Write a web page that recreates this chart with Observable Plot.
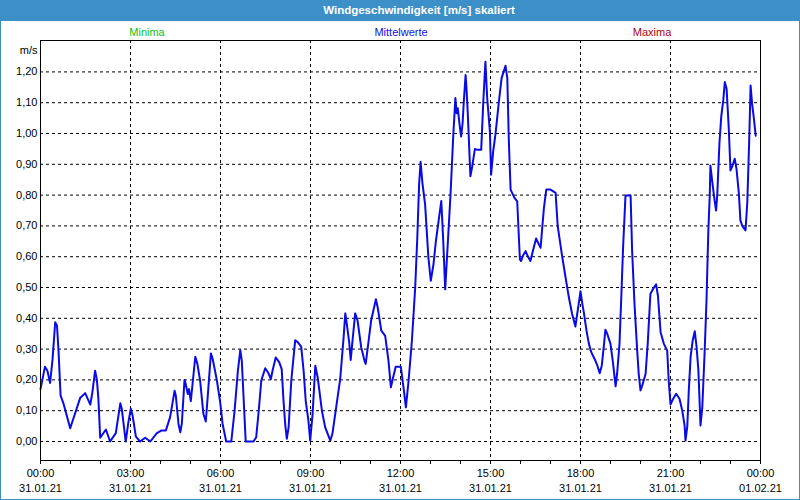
<!DOCTYPE html>
<html>
<head>
<meta charset="utf-8">
<script src="https://cdn.jsdelivr.net/npm/d3@7"></script>
<script src="https://cdn.jsdelivr.net/npm/@observablehq/plot@0.6"></script>
<style>
  html, body { margin: 0; padding: 0; background: #fff; }
  #wrap { position: relative; width: 800px; height: 500px; overflow: hidden; font-family: "Liberation Sans", Arial, sans-serif; background: #fff; }
  #titlebar { position: absolute; left: 0; top: 0; width: 800px; height: 21px; background: #3c8fc7; z-index: 2; }
  #title { position: absolute; left: 419px; top: 10px; transform: translate(-50%, -50%); color: #fff; font-weight: bold; font-size: 11.5px; white-space: nowrap; }
  .leg { position: absolute; top: 32px; transform: translate(-50%, -50%); font-size: 11px; white-space: nowrap; z-index: 3; }
  #chart { position: absolute; left: 0; top: 21px; z-index: 1; }
  #border { position: absolute; left: 0; top: 0; width: 800px; height: 500px; box-sizing: border-box; border: 1px solid #3c8fc7; pointer-events: none; z-index: 4; }
</style>
</head>
<body>
<div id="wrap">
  <div id="titlebar"><span id="title">Windgeschwindigkeit [m/s] skaliert</span></div>
  <div id="chart"></div>
  <span class="leg" style="left:147px;color:#10c010">Minima</span>
  <span class="leg" style="left:401px;color:#1010e8">Mittelwerte</span>
  <span class="leg" style="left:652px;color:#b00010">Maxima</span>
  <div id="border"></div>
</div>
<script>
// time in hours since 31.01.21 00:00
const hours = [
  0.00,0.15,0.23,0.32,0.40,0.49,0.55,0.60,0.67,0.77,0.99,1.32,1.49,1.66,1.73,1.82,1.88,1.93,1.99,2.18,
  2.32,2.51,2.66,2.71,2.84,2.93,3.01,3.07,3.18,3.32,3.49,3.66,3.88,4.04,4.18,4.32,4.47,4.51,4.60,4.66,
  4.71,4.80,4.84,4.91,4.95,5.01,5.08,5.16,5.23,5.32,5.43,5.51,5.58,5.68,5.74,5.88,5.99,6.07,6.19,6.36,
  6.47,6.58,6.66,6.71,6.84,7.10,7.19,7.27,7.36,7.49,7.58,7.68,7.74,7.84,7.96,8.04,8.10,8.16,8.21,8.27,
  8.36,8.49,8.58,8.69,8.77,8.84,8.93,8.99,9.07,9.16,9.24,9.38,9.49,9.66,9.73,9.84,9.99,10.10,10.16,10.21,
  10.29,10.34,10.40,10.49,10.57,10.69,10.80,10.84,10.91,11.02,11.18,11.24,11.36,11.49,11.60,11.68,11.73,11.84,12.01,12.10,
  12.18,12.27,12.38,12.49,12.56,12.62,12.67,12.73,12.82,12.93,13.01,13.10,13.18,13.27,13.36,13.42,13.49,13.58,13.67,13.76,
  13.83,13.87,13.91,13.97,14.02,14.07,14.11,14.17,14.20,14.24,14.33,14.39,14.48,14.56,14.69,14.76,14.83,14.89,14.98,15.02,
  15.09,15.17,15.28,15.37,15.50,15.56,15.61,15.67,15.80,15.89,15.98,16.02,16.09,16.17,16.24,16.33,16.44,16.52,16.61,16.67,
  16.78,16.86,17.00,17.17,17.24,17.39,17.50,17.61,17.72,17.83,17.89,17.94,18.00,18.06,18.11,18.20,18.28,18.36,18.47,18.56,
  18.64,18.71,18.78,18.83,18.89,19.00,19.08,19.17,19.22,19.30,19.36,19.42,19.50,19.67,19.72,19.80,19.89,19.94,20.00,20.06,
  20.17,20.24,20.33,20.44,20.52,20.58,20.67,20.78,20.89,20.94,21.00,21.09,21.19,21.30,21.39,21.47,21.50,21.56,21.61,21.67,
  21.74,21.81,21.87,21.93,22.00,22.06,22.14,22.20,22.26,22.31,22.33,22.40,22.47,22.52,22.56,22.63,22.69,22.76,22.81,22.87,
  22.94,23.00,23.07,23.14,23.20,23.28,23.33,23.39,23.50,23.56,23.62,23.67,23.72,23.78,23.84
];
// Mittelwerte [m/s]
const speeds = [
  0.170,0.243,0.230,0.190,0.265,0.387,0.376,0.295,0.149,0.122,0.043,0.141,0.157,0.120,0.160,0.230,0.200,0.138,0.012,0.039,
  0.000,0.027,0.124,0.106,0.000,0.063,0.106,0.084,0.016,0.000,0.012,0.000,0.027,0.036,0.036,0.079,0.165,0.149,0.057,0.030,
  0.057,0.200,0.187,0.154,0.170,0.131,0.198,0.275,0.252,0.198,0.090,0.065,0.154,0.286,0.268,0.198,0.127,0.057,0.000,0.000,
  0.100,0.230,0.297,0.262,0.000,0.000,0.014,0.095,0.198,0.238,0.225,0.203,0.232,0.273,0.257,0.235,0.133,0.052,0.009,0.046,
  0.198,0.329,0.322,0.308,0.230,0.133,0.068,0.003,0.090,0.246,0.208,0.100,0.046,0.003,0.025,0.100,0.203,0.333,0.416,0.381,
  0.322,0.265,0.327,0.416,0.392,0.306,0.262,0.252,0.306,0.392,0.462,0.435,0.360,0.343,0.262,0.176,0.198,0.243,0.243,0.176,
  0.111,0.198,0.327,0.500,0.662,0.835,0.908,0.840,0.770,0.597,0.522,0.576,0.651,0.716,0.781,0.661,0.494,0.650,0.807,0.996,
  1.115,1.066,1.082,1.028,0.990,1.034,1.104,1.190,1.147,1.071,0.861,0.893,0.950,0.947,0.947,1.104,1.233,1.115,1.007,0.866,
  0.942,1.001,1.104,1.180,1.220,1.180,0.980,0.818,0.791,0.780,0.591,0.586,0.605,0.618,0.602,0.586,0.629,0.659,0.640,0.629,
  0.758,0.818,0.818,0.807,0.699,0.600,0.534,0.469,0.414,0.373,0.414,0.447,0.488,0.447,0.420,0.360,0.317,0.290,0.268,0.247,
  0.222,0.247,0.312,0.363,0.350,0.317,0.258,0.179,0.220,0.317,0.469,0.631,0.799,0.799,0.620,0.447,0.295,0.220,0.166,0.182,
  0.220,0.317,0.479,0.499,0.510,0.474,0.355,0.317,0.295,0.198,0.120,0.139,0.155,0.139,0.101,0.052,0.003,0.050,0.166,0.274,
  0.328,0.358,0.306,0.231,0.052,0.111,0.295,0.458,0.680,0.804,0.896,0.837,0.782,0.750,0.804,0.966,1.053,1.109,1.167,1.145,
  1.021,0.880,0.896,0.918,0.885,0.804,0.718,0.701,0.685,0.777,0.966,1.156,1.096,1.048,0.993
];
const yTicks = [0,0.1,0.2,0.3,0.4,0.5,0.6,0.7,0.8,0.9,1.0,1.1,1.2];
const yTickLabels = ["0,00","0,10","0,20","0,30","0,40","0,50","0,60","0,70","0,80","0,90","1,00","1,10","1,20"];
const xMajor = [0,3,6,9,12,15,18,21,24];
const xTimeLabels = ["00:00","03:00","06:00","09:00","12:00","15:00","18:00","21:00","00:00"];
const xDateLabels = ["31.01.21","31.01.21","31.01.21","31.01.21","31.01.21","31.01.21","31.01.21","31.01.21","01.02.21"];
const xMinor = d3.range(0, 25);
const xGrid = [3,6,9,12,15,18,21];
const unit = "m/s";

const data = hours.map((h, i) => ({t: h, v: speeds[i]}));

const chart = Plot.plot({
  width: 800,
  height: 478,
  marginLeft: 40,
  marginRight: 40,
  marginTop: 19,
  marginBottom: 39,
  style: {fontFamily: "'Liberation Sans', Arial, sans-serif", fontSize: "11px", color: "#000", background: "transparent"},
  x: {domain: [0, 24], axis: null},
  y: {domain: [-0.0617, 1.302], axis: null},
  marks: [
    Plot.ruleY(yTicks, {stroke: "#000", strokeDasharray: "3,3", strokeWidth: 1}),
    Plot.ruleX(xGrid, {stroke: "#000", strokeDasharray: "3,3", strokeWidth: 1}),
    Plot.line(data, {x: "t", y: "v", stroke: "#0a0ae6", strokeWidth: 2, strokeLinejoin: "round"}),
    Plot.frame({stroke: "#000", strokeWidth: 1}),
    Plot.axisY(yTicks, {tickSize: 0, tickPadding: 3, tickFormat: d => yTickLabels[yTicks.indexOf(d)], label: null, fontSize: 11}),
    Plot.axisX(xMinor, {tickSize: 4, tickFormat: () => "", label: null}),
    Plot.axisX(xMajor, {tickSize: 0, tickPadding: 9, tickFormat: d => xTimeLabels[xMajor.indexOf(d)], label: null, fontSize: 11}),
    Plot.axisX(xMajor, {tickSize: 0, tickPadding: 24, tickFormat: d => xDateLabels[xMajor.indexOf(d)], label: null, fontSize: 11}),
    Plot.text([unit], {frameAnchor: "top-left", text: d => d, dx: -3, dy: 6, textAnchor: "end", fontSize: 11})
  ]
});
document.getElementById("chart").appendChild(chart);
</script>
</body>
</html>
